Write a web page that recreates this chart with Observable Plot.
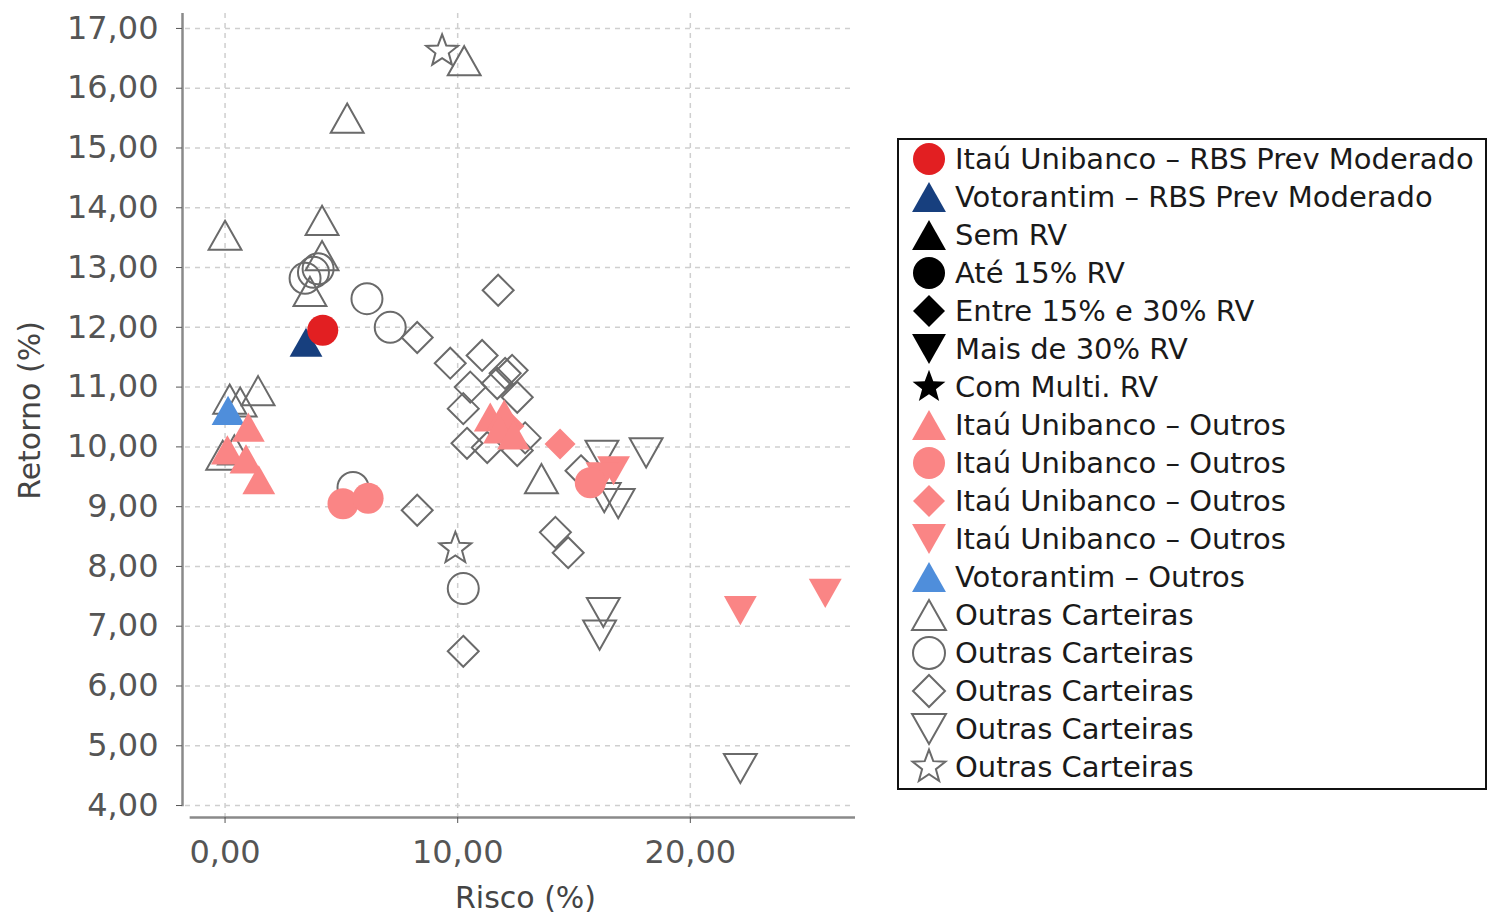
<!DOCTYPE html>
<html><head><meta charset="utf-8">
<script src="https://cdn.jsdelivr.net/npm/d3@7"></script>
<script src="https://cdn.jsdelivr.net/npm/@observablehq/plot@0.6"></script>
<style>
body{margin:0;background:#fff;font-family:"DejaVu Sans",sans-serif;}
#wrap{position:relative;width:1488px;height:914px;overflow:hidden;}
#chart{position:absolute;left:0;top:0;}
#legend{position:absolute;left:897px;top:138px;width:586px;height:648px;border:2px solid #111;background:#fff;}
</style></head><body>
<div id="wrap"><div id="chart"></div><div id="legend"></div></div>
<script>
// ---- data (Risco %, Retorno %) ----
const outrasUp = [[0.0,13.54],[5.25,15.5],[10.28,16.46],[4.17,13.79],[4.17,13.2],[3.65,12.6],[1.42,10.94],[0.2,10.8],[0.65,10.75],[-0.1,9.86],[0.4,9.95],[13.6,9.47]];
const outrasCircle = [[3.44,12.82],[3.8,12.92],[4.0,12.98],[6.1,12.48],[7.1,12.0],[5.5,9.32],[10.24,7.63]];
const outrasDiamond = [[11.74,12.62],[8.26,11.83],[9.68,11.4],[11.05,11.53],[10.54,11.0],[11.7,11.06],[12.04,11.23],[12.34,11.28],[12.56,10.83],[10.24,10.64],[10.4,10.06],[11.27,9.99],[12.56,9.94],[12.9,10.15],[15.3,9.6],[8.26,8.94],[14.2,8.57],[14.75,8.23],[10.24,6.58]];
const outrasDown = [[16.2,9.86],[18.1,9.9],[16.3,9.15],[16.9,9.05],[16.26,7.23],[16.1,6.85],[22.15,4.62]];
const outrasStar = [[9.33,16.62],[9.9,8.3]];
const votorantimOutros = [[0.13,10.61]];
const itauOutrosUp = [[1.0,10.33],[0.1,9.95],[0.9,9.8],[1.45,9.45],[11.4,10.5],[12.0,10.55],[11.8,10.3],[12.4,10.2]];
const itauOutrosCircle = [[5.07,9.05],[6.15,9.14],[15.7,9.4]];
const itauOutrosDiamond = [[14.4,10.05],[12.2,10.35]];
const itauOutrosDown = [[16.7,9.6],[16.2,9.5],[22.15,7.26],[25.8,7.55]];
const votorantimRbs = [[3.48,11.75]];
const itauRbs = [[4.2,11.95]];

const xTicks = [0, 10, 20];
const yTicks = [4,5,6,7,8,9,10,11,12,13,14,15,16,17];
const xLabel = "Risco (%)";
const yLabel = "Retorno (%)";

const legendItems = [
  ["Itaú Unibanco – RBS Prev Moderado", "circle", "red"],
  ["Votorantim – RBS Prev Moderado", "up", "navy"],
  ["Sem RV", "up", "black"],
  ["Até 15% RV", "circle", "black"],
  ["Entre 15% e 30% RV", "diamond", "black"],
  ["Mais de 30% RV", "down", "black"],
  ["Com Multi. RV", "star", "black"],
  ["Itaú Unibanco – Outros", "up", "pink"],
  ["Itaú Unibanco – Outros", "circle", "pink"],
  ["Itaú Unibanco – Outros", "diamond", "pink"],
  ["Itaú Unibanco – Outros", "down", "pink"],
  ["Votorantim – Outros", "up", "blue"],
  ["Outras Carteiras", "up", "outline"],
  ["Outras Carteiras", "circle", "outline"],
  ["Outras Carteiras", "diamond", "outline"],
  ["Outras Carteiras", "down", "outline"],
  ["Outras Carteiras", "star", "outline"]
];

// ---- styles ----
const colors = {red:"#e21f22", navy:"#173f7e", black:"#000", pink:"#fa8585", blue:"#4f8edb", outline:"#6a6a6a"};
const fmt = d => d3.format(".2f")(d).replace(".", ",");

const sym = {
  circle: {draw(c, s){const r=Math.sqrt(s/Math.PI); c.moveTo(r,0); c.arc(0,0,r,0,2*Math.PI); c.closePath();}},
  up: {draw(c, s){const r=Math.sqrt(s/Math.PI); const w=r*1.06, h=r*0.94; c.moveTo(0,-h); c.lineTo(w,h); c.lineTo(-w,h); c.closePath();}},
  down: {draw(c, s){const r=Math.sqrt(s/Math.PI); const w=r*1.06, h=r*0.94; c.moveTo(0,h); c.lineTo(w,-h); c.lineTo(-w,-h); c.closePath();}},
  diamond: {draw(c, s){const r=Math.sqrt(s/Math.PI); c.moveTo(0,-r); c.lineTo(r,0); c.lineTo(0,r); c.lineTo(-r,0); c.closePath();}},
  star: {draw(c, s){const r=Math.sqrt(s/Math.PI)*1.08, ri=r*0.42; for(let i=0;i<10;i++){const a=-Math.PI/2+i*Math.PI/5; const rr=i%2?ri:r; const px=rr*Math.cos(a), py=rr*Math.sin(a); i?c.lineTo(px,py):c.moveTo(px,py);} c.closePath();}}
};
const R = 15.5;
const filled = (data, shape, color) => Plot.dot(data, {x: d=>d[0], y: d=>d[1], symbol: sym[shape], r: R, fill: colors[color], stroke: "none"});
const open = (data, shape) => Plot.dot(data, {x: d=>d[0], y: d=>d[1], symbol: sym[shape], r: R, fill: "none", stroke: colors.outline, strokeWidth: 2});

const xDomain = [-1.7, 27.1], yDomain = [3.8, 17.25];

const chart = Plot.plot({
  width: 860, height: 914,
  marginLeft: 185, marginRight: 5, marginTop: 13, marginBottom: 97,
  style: {fontFamily: "DejaVu Sans, sans-serif", background: "transparent"},
  x: {domain: xDomain, axis: null},
  y: {domain: yDomain, axis: null},
  marks: [
    Plot.ruleY(yTicks, {stroke: "#cfcfcf", strokeWidth: 1.5, strokeDasharray: "5,5"}),
    Plot.ruleX(xTicks, {stroke: "#cfcfcf", strokeWidth: 1.5, strokeDasharray: "5,5"}),
    Plot.ruleX([xDomain[0]], {y1: 3.98, y2: yDomain[1], dx: -3, stroke: "#8a8a8a", strokeWidth: 2.5}),
    Plot.ruleY([yDomain[0]], {x1: -1.5, x2: xDomain[1], stroke: "#8a8a8a", strokeWidth: 2.5}),
    Plot.axisY(yTicks, {anchor: "left", tickSize: 6, tickPadding: 18, tickFormat: fmt, fontSize: 32, color: "#555", dx: -3}),
    Plot.axisX(xTicks, {anchor: "bottom", tickSize: 6, tickPadding: 17, tickFormat: fmt, fontSize: 32, color: "#555"}),
    Plot.text([yLabel], {text: d=>d, frameAnchor: "left", textAnchor: "middle", dx: -155, dy: -5, rotate: -90, fontSize: 30, fill: "#444"}),
    Plot.text([xLabel], {text: d=>d, frameAnchor: "bottom", textAnchor: "middle", dx: 5, dy: 90, fontSize: 30, fill: "#444"}),
    // reverse series order: last legend entry drawn first
    open(outrasStar, "star"),
    open(outrasDown, "down"),
    open(outrasDiamond, "diamond"),
    open(outrasCircle, "circle"),
    open(outrasUp, "up"),
    filled(votorantimOutros, "up", "blue"),
    filled(itauOutrosDown, "down", "pink"),
    filled(itauOutrosDiamond, "diamond", "pink"),
    filled(itauOutrosCircle, "circle", "pink"),
    filled(itauOutrosUp, "up", "pink"),
    filled(votorantimRbs, "up", "navy"),
    filled(itauRbs, "circle", "red")
  ]
});
document.getElementById("chart").append(chart);

// ---- legend ----
const lg = d3.select("#legend").append("svg").attr("width", 586).attr("height", 648)
  .style("font-family", "DejaVu Sans, sans-serif");
legendItems.forEach(([label, shape, color], i) => {
  const g = lg.append("g").attr("transform", `translate(30,${19 + i*38})`);
  const p = d3.path(); sym[shape].draw(p, Math.PI*16*16);
  const isOpen = color === "outline";
  g.append("path").attr("d", p.toString())
    .attr("fill", isOpen ? "none" : colors[color])
    .attr("stroke", isOpen ? colors.outline : "none")
    .attr("stroke-width", 2);
  g.append("text").attr("x", 26).attr("dy", "0.35em").attr("font-size", 29).attr("fill", "#1a1a1a").text(label);
});
</script>
</body></html>
